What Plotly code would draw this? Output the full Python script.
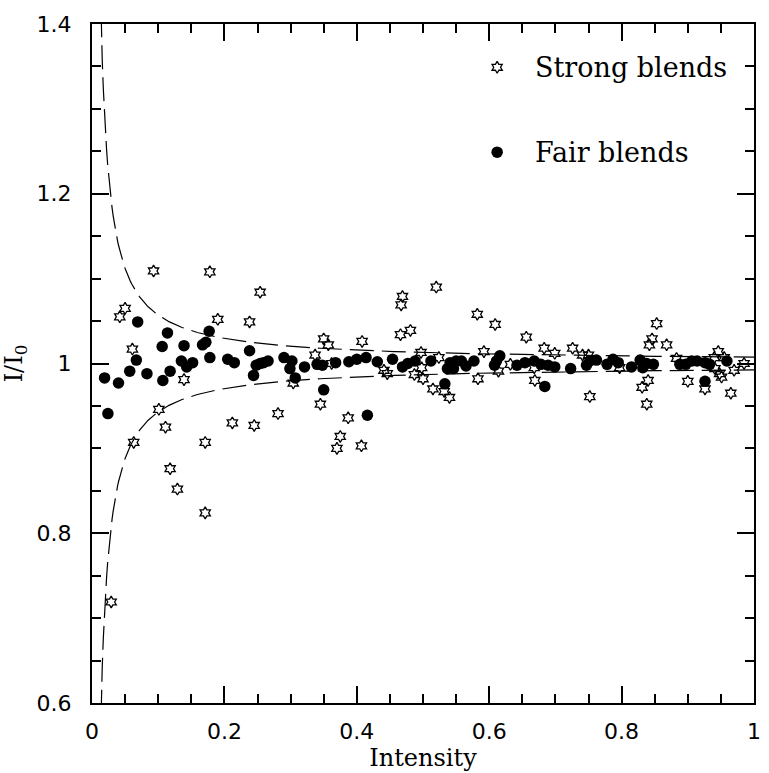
import numpy as np
import plotly.graph_objects as go

# ---- data: Strong blends (open stars) ----
strong_x = [0.029, 0.042, 0.050, 0.061, 0.063, 0.093, 0.101, 0.111, 0.118, 0.129,
            0.139, 0.171, 0.171, 0.178, 0.190, 0.212, 0.238, 0.245, 0.254, 0.281,
            0.304, 0.337, 0.345, 0.350, 0.357, 0.362, 0.370, 0.375, 0.387, 0.407,
            0.408, 0.441, 0.446, 0.466, 0.467, 0.469, 0.481, 0.487, 0.497, 0.498,
            0.500, 0.515, 0.520, 0.524, 0.532, 0.540, 0.582, 0.583, 0.592, 0.609,
            0.614, 0.632, 0.656, 0.668, 0.669, 0.683, 0.699, 0.726, 0.741, 0.750,
            0.752, 0.797, 0.831, 0.838, 0.840, 0.842, 0.846, 0.853, 0.868, 0.883,
            0.900, 0.926, 0.940, 0.941, 0.946, 0.948, 0.951, 0.955, 0.965, 0.970,
            0.985]
strong_y = [0.719, 1.055, 1.065, 1.017, 0.907, 1.109, 0.946, 0.925, 0.876, 0.852,
            0.981, 0.907, 0.824, 1.108, 1.052, 0.930, 1.049, 0.927, 1.084, 0.941,
            0.977, 1.010, 0.952, 1.029, 1.022, 1.000, 0.900, 0.914, 0.936, 0.903,
            1.026, 0.992, 0.988, 1.034, 1.069, 1.079, 1.039, 0.987, 1.013, 0.995,
            0.982, 0.970, 1.090, 1.007, 0.967, 0.960, 1.058, 0.982, 1.014, 1.046,
            0.991, 0.999, 1.031, 0.995, 0.980, 1.018, 1.012, 1.018, 1.010, 1.010,
            0.961, 0.995, 0.972, 0.952, 0.980, 1.022, 1.029, 1.047, 1.022, 1.006,
            0.979, 0.970, 1.007, 0.994, 1.014, 0.988, 0.984, 1.007, 0.965, 0.992,
            1.000]

# ---- data: Fair blends (filled circles) ----
fair_x = [0.019, 0.024, 0.040, 0.057, 0.067, 0.069, 0.083, 0.106, 0.107, 0.114,
          0.118, 0.135, 0.139, 0.143, 0.152, 0.167, 0.172, 0.177, 0.178, 0.205,
          0.215, 0.238, 0.244, 0.248, 0.254, 0.259, 0.266, 0.290, 0.299, 0.302,
          0.307, 0.321, 0.340, 0.348, 0.350, 0.368, 0.388, 0.400, 0.414, 0.416,
          0.431, 0.454, 0.469, 0.477, 0.488, 0.512, 0.533, 0.537, 0.541, 0.546,
          0.550, 0.558, 0.565, 0.577, 0.608, 0.611, 0.616, 0.642, 0.654, 0.668,
          0.678, 0.684, 0.689, 0.699, 0.723, 0.747, 0.752, 0.762, 0.778, 0.787,
          0.795, 0.815, 0.828, 0.832, 0.838, 0.848, 0.888, 0.897, 0.906, 0.914,
          0.926, 0.926, 0.933, 0.959]
fair_y = [0.983, 0.941, 0.977, 0.991, 1.004, 1.049, 0.988, 1.020, 0.980, 1.036,
          0.991, 1.003, 1.021, 0.996, 1.001, 1.022, 1.025, 1.038, 1.007, 1.005,
          1.001, 1.015, 0.986, 0.998, 1.000, 1.001, 1.003, 1.007, 0.994, 1.003,
          0.983, 0.996, 0.999, 0.998, 0.969, 1.001, 1.002, 1.005, 1.007, 0.939,
          1.002, 1.005, 0.996, 1.000, 1.003, 1.003, 0.976, 0.994, 1.001, 0.994,
          1.003, 1.003, 0.997, 1.003, 0.998, 1.003, 1.009, 0.998, 1.001, 1.003,
          0.999, 0.973, 0.998, 0.996, 0.994, 0.998, 1.003, 1.004, 0.999, 1.005,
          1.001, 0.996, 1.004, 0.995, 1.000, 0.999, 0.999, 0.999, 1.003, 1.003,
          1.001, 0.979, 0.999, 1.003]

# ---- envelope model curve: 1 +/- (A/I + B) ----
env_A = 0.0055
env_B = 0.002

# ---- tick labels ----
x_ticks = [0, 0.2, 0.4, 0.6, 0.8, 1.0]
x_labels = ["0", "0.2", "0.4", "0.6", "0.8", "1"]
y_ticks = [0.6, 0.8, 1.0, 1.2, 1.4]
y_labels = ["0.6", "0.8", "1", "1.2", "1.4"]

series_names = ["Strong blends", "Fair blends"]

xe = np.linspace(0.0105, 1.0, 600)
dev = env_A / xe + env_B

fig = go.Figure()
dash = "24px,8px"
fig.add_trace(go.Scatter(x=xe, y=1 + dev, mode="lines",
                         line=dict(color="black", width=1.2, dash=dash),
                         showlegend=False, hoverinfo="skip"))
fig.add_trace(go.Scatter(x=xe, y=1 - dev, mode="lines",
                         line=dict(color="black", width=1.2, dash=dash),
                         showlegend=False, hoverinfo="skip"))

star_marker = dict(symbol="hexagram-open", size=9, color="black",
                   line=dict(color="black", width=1.3))
dot_marker = dict(symbol="circle", size=11.5, color="black", line=dict(width=0))

fig.add_trace(go.Scatter(x=strong_x, y=strong_y, mode="markers",
                         marker=star_marker, name=series_names[0],
                         showlegend=False, cliponaxis=False))
fig.add_trace(go.Scatter(x=fair_x, y=fair_y, mode="markers",
                         marker=dot_marker, name=series_names[1],
                         showlegend=False, cliponaxis=False))

# legend key placed inside the frame (axis coordinates)
leg_mx = 0.612
leg_tx = 0.666
leg_my = [1.349, 1.249]
fig.add_trace(go.Scatter(x=[leg_mx], y=[leg_my[0]], mode="markers",
                         marker=star_marker, showlegend=False, hoverinfo="skip"))
fig.add_trace(go.Scatter(x=[leg_mx], y=[leg_my[1]], mode="markers",
                         marker=dot_marker, showlegend=False, hoverinfo="skip"))
for name, yy in zip(series_names, leg_my):
    fig.add_annotation(x=leg_tx, y=yy, xref="x", yref="y",
                       text=name, showarrow=False, xanchor="left",
                       yanchor="middle",
                       font=dict(family="DejaVu Serif", size=27, color="black"))

tickfont = dict(family="DejaVu Sans", size=22, color="black")
titlefont = dict(family="DejaVu Serif", size=24, color="black")

fig.update_layout(
    width=769, height=773,
    margin=dict(l=92, r=8, t=24, b=60),
    paper_bgcolor="white", plot_bgcolor="white",
    showlegend=False,
    xaxis=dict(range=[0, 1], tickvals=x_ticks, ticktext=x_labels,
               ticks="inside", ticklen=17, tickwidth=1.5, tickcolor="black",
               minor=dict(dtick=0.05, tick0=0, ticks="inside", ticklen=9,
                          tickwidth=1.5, tickcolor="black", showgrid=False),
               showline=True, linewidth=2, linecolor="black", mirror="ticks",
               showgrid=False, zeroline=False, tickfont=tickfont,
               ticklabelstandoff=8,
               title=dict(text="Intensity", font=titlefont, standoff=4)),
    yaxis=dict(range=[0.6, 1.4], tickvals=y_ticks, ticktext=y_labels,
               ticks="inside", ticklen=17, tickwidth=1.5, tickcolor="black",
               minor=dict(dtick=0.05, tick0=0.6, ticks="inside", ticklen=9,
                          tickwidth=1.5, tickcolor="black", showgrid=False),
               showline=True, linewidth=2, linecolor="black", mirror="ticks",
               showgrid=False, zeroline=False, tickfont=tickfont,
               ticklabelstandoff=14,
               title=dict(text="I/I<sub>0</sub>", font=titlefont, standoff=7)),
)

fig.write_html(
    "out.html",
    config={"displayModeBar": False},
    post_script="document.body.style.margin='0px';"
                "document.body.style.overflow='hidden';",
)
